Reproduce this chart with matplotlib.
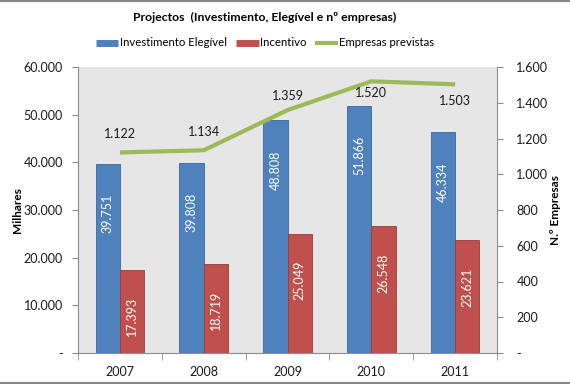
import numpy as np
import matplotlib.pyplot as plt
from matplotlib.lines import Line2D
import matplotlib.ticker as mtick

plt.rcParams['font.family'] = ['Lato', 'DejaVu Sans']

years = ['2007', '2008', '2009', '2010', '2011']
investimento = [39751, 39808, 48808, 51866, 46334]
incentivo = [17393, 18719, 25049, 26548, 23621]
empresas = [1122, 1134, 1359, 1520, 1503]

blue = '#4f81bd'
red = '#c0504d'
green = '#9bbb59'
axcol = '#8c8c8c'


def pt_fmt(v, pos=None):
    if v == 0:
        return '-'
    return '{:,.0f}'.format(v).replace(',', '.')


fig = plt.figure(figsize=(5.7, 3.84), dpi=100)
ax = fig.add_axes([78 / 570, 31 / 384, 419 / 570, 286 / 384])
ax.set_facecolor('#e6e6e6')

x = np.arange(len(years))
w = 0.29
b1 = ax.bar(x - w / 2, investimento, w, color=blue, edgecolor='#3a679c', linewidth=0.6, zorder=2)
b2 = ax.bar(x + w / 2, incentivo, w, color=red, edgecolor='#9a3b39', linewidth=0.6, zorder=2)

ax.set_xlim(-0.5, len(years) - 0.5)
ax.set_ylim(0, 60000)
ax.yaxis.set_major_locator(mtick.MultipleLocator(10000))
ax.yaxis.set_major_formatter(mtick.FuncFormatter(pt_fmt))
ax.set_xticks(x)
ax.set_xticklabels(years)
ax.set_xticks(np.arange(-0.5, len(years)), minor=True)
ax.tick_params(axis='x', which='major', length=0, pad=9, labelsize=9, colors='#1a1a1a')
ax.tick_params(axis='x', which='minor', length=5, color=axcol, direction='out')
ax.tick_params(axis='y', length=4, color=axcol, pad=7, labelsize=9, labelcolor='#1a1a1a')
for s in ['top', 'right']:
    ax.spines[s].set_visible(False)
for s in ['left', 'bottom']:
    ax.spines[s].set_color(axcol)
ax.set_ylabel('Milhares', fontsize=8.5, fontweight='bold', labelpad=0)

# value labels inside bars
for rect, v in zip(b1, investimento):
    ax.annotate(pt_fmt(v), (rect.get_x() + rect.get_width() / 2, v), xytext=(0, -30),
                textcoords='offset pixels', rotation=90, ha='center', va='top',
                color='white', fontsize=9, zorder=4)
for rect, v in zip(b2, incentivo):
    ax.annotate(pt_fmt(v), (rect.get_x() + rect.get_width() / 2, v), xytext=(0, -27),
                textcoords='offset pixels', rotation=90, ha='center', va='top',
                color='white', fontsize=9, zorder=4)

ax2 = ax.twinx()
ax2.plot(x, empresas, color=green, linewidth=3, solid_capstyle='butt', zorder=3)
ax2.set_ylim(0, 1600)
ax2.yaxis.set_major_locator(mtick.MultipleLocator(200))
ax2.yaxis.set_major_formatter(mtick.FuncFormatter(pt_fmt))
ax2.tick_params(axis='y', length=4, color=axcol, pad=10, labelsize=9, labelcolor='#1a1a1a')
for s in ['top', 'left', 'bottom']:
    ax2.spines[s].set_visible(False)
ax2.spines['right'].set_color(axcol)
ax2.set_ylabel('N.º Empresas', fontsize=8.5, fontweight='bold', labelpad=1)

label_off = [18, 18, 14, -12, -17]
for xi, v, off in zip(x, empresas, label_off):
    ax2.annotate(pt_fmt(v), (xi, v), xytext=(0, off), textcoords='offset pixels',
                 ha='center', va='center', fontsize=9, color='#1a1a1a')

# title and legend
fig.text(265 / 570, 1 - 17 / 384, 'Projectos  (Investimento, Elegível e nº empresas)',
         ha='center', va='center', fontsize=8.8, fontweight='bold')
handles = [Line2D([], [], color=blue, lw=5, solid_capstyle='butt'),
           Line2D([], [], color=red, lw=5, solid_capstyle='butt'),
           Line2D([], [], color=green, lw=3, solid_capstyle='butt')]
fig.legend(handles, ['Investimento Elegível', 'Incentivo', 'Empresas previstas'],
           loc='center', bbox_to_anchor=(265 / 570, 1 - 43 / 384), ncol=3, frameon=False,
           fontsize=8.2, handlelength=2.0, handletextpad=0.1, columnspacing=0.8)

# border lines
fig.add_artist(Line2D([0, 1], [0.998, 0.998], color='#888888', lw=1.5, transform=fig.transFigure))
fig.add_artist(Line2D([0, 1], [0.003, 0.003], color='#888888', lw=1.5, transform=fig.transFigure))

fig.savefig('out.png', dpi=100)
